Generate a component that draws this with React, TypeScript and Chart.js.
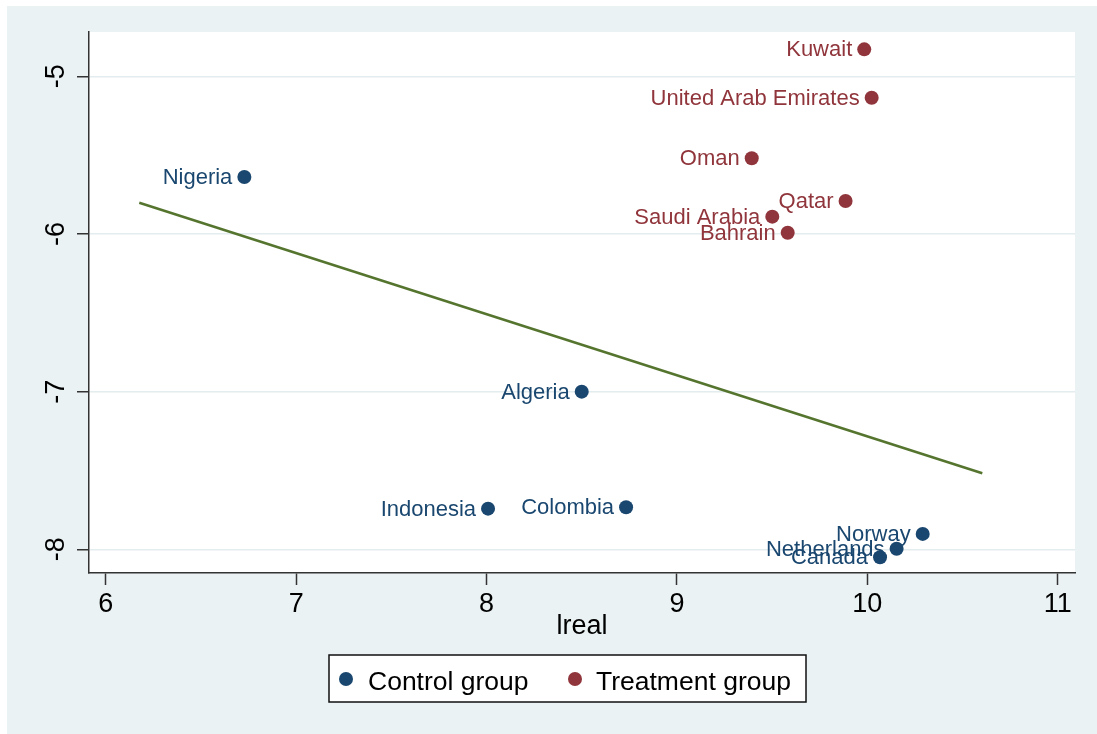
import React, { useEffect, useRef } from 'react';
import { Chart, registerables } from 'chart.js';

Chart.register(...registerables);

// Country observations, split by group
const controlNames = ['Nigeria', 'Algeria', 'Indonesia', 'Colombia', 'Norway', 'Netherlands', 'Canada'];
const controlX = [6.728, 8.5, 8.008, 8.733, 10.291, 10.154, 10.067];
const controlY = [-5.639, -7.0, -7.742, -7.733, -7.902, -7.996, -8.05];

const treatmentNames = ['Kuwait', 'United Arab Emirates', 'Oman', 'Qatar', 'Saudi Arabia', 'Bahrain'];
const treatmentX = [9.984, 10.023, 9.393, 9.886, 9.501, 9.582];
const treatmentY = [-4.829, -5.136, -5.52, -5.791, -5.89, -5.992];

// Fitted line end points
const fitX = [6.176, 10.604];
const fitY = [-5.802, -7.517];

// Axis ticks and ranges
const xTicks = [6, 7, 8, 9, 10, 11];
const yTicks = [-8, -7, -6, -5];
const xRange = [5.912, 11.091];
const yRange = [-8.15, -4.719];

const legendLabels = ['Control group', 'Treatment group'];

const NAVY = '#1A476F';
const MAROON = '#90353B';
const GREEN = '#55752F';
const REGION_BG = '#EAF2F3';
const AXIS = '#333333';
const FONT = '"Liberation Sans", Arial, sans-serif';

const toPoints = (xs: number[], ys: number[]) => xs.map((x, i) => ({ x, y: ys[i] }));

// Paints the outer graph region and the white plot region
const backgroundPlugin = {
  id: 'regionBackground',
  beforeDraw(chart: any) {
    const { ctx, chartArea } = chart;
    ctx.save();
    ctx.fillStyle = REGION_BG;
    ctx.fillRect(0, 0, chart.width, chart.height);
    ctx.fillStyle = '#ffffff';
    ctx.fillRect(chartArea.left, chartArea.top, chartArea.right - chartArea.left, chartArea.bottom - chartArea.top);
    ctx.restore();
  },
};

// Country names written to the left of each marker
const pointLabelPlugin = {
  id: 'pointLabels',
  afterDatasetsDraw(chart: any) {
    const { ctx } = chart;
    ctx.save();
    ctx.font = `22px ${FONT}`;
    ctx.textAlign = 'right';
    ctx.textBaseline = 'middle';
    chart.data.datasets.forEach((ds: any, di: number) => {
      if (!ds.names) return;
      const meta = chart.getDatasetMeta(di);
      ctx.fillStyle = ds.backgroundColor;
      meta.data.forEach((el: any, i: number) => {
        ctx.fillText(ds.names[i], el.x - 12, el.y + 1);
      });
    });
    ctx.restore();
  },
};

// Boxed legend below the axis title
const boxLegendPlugin = {
  id: 'boxLegend',
  afterDraw(chart: any) {
    const { ctx } = chart;
    const boxLeft = 322;
    const boxTop = 649;
    const boxW = 477;
    const boxH = 47;
    const midY = boxTop + boxH / 2 + 0.5;
    ctx.save();
    ctx.fillStyle = '#ffffff';
    ctx.fillRect(boxLeft, boxTop, boxW, boxH);
    ctx.strokeStyle = '#111111';
    ctx.lineWidth = 1.5;
    ctx.strokeRect(boxLeft, boxTop, boxW, boxH);
    const items = [
      { label: legendLabels[0], color: NAVY, mx: 339, tx: 361 },
      { label: legendLabels[1], color: MAROON, mx: 568, tx: 589 },
    ];
    ctx.font = `26.5px ${FONT}`;
    ctx.textAlign = 'left';
    ctx.textBaseline = 'alphabetic';
    items.forEach((it) => {
      ctx.fillStyle = it.color;
      ctx.beginPath();
      ctx.arc(it.mx, midY, 7, 0, Math.PI * 2);
      ctx.fill();
      ctx.fillStyle = '#000000';
      ctx.fillText(it.label, it.tx, 684);
    });
    ctx.restore();
  },
};

export default function App() {
  const canvasRef = useRef<HTMLCanvasElement | null>(null);

  useEffect(() => {
    const canvas = canvasRef.current;
    if (!canvas) return;
    const chart = new Chart(canvas, {
      type: 'scatter',
      data: {
        datasets: [
          {
            label: 'Fitted values',
            data: toPoints(fitX, fitY),
            showLine: true,
            borderColor: GREEN,
            backgroundColor: GREEN,
            borderWidth: 2.5,
            pointRadius: 0,
            order: 3,
          },
          {
            label: legendLabels[0],
            names: controlNames,
            data: toPoints(controlX, controlY),
            backgroundColor: NAVY,
            borderColor: NAVY,
            borderWidth: 0,
            pointRadius: 7,
            order: 1,
          } as any,
          {
            label: legendLabels[1],
            names: treatmentNames,
            data: toPoints(treatmentX, treatmentY),
            backgroundColor: MAROON,
            borderColor: MAROON,
            borderWidth: 0,
            pointRadius: 7,
            order: 2,
          } as any,
        ],
      },
      options: {
        responsive: false,
        animation: false,
        devicePixelRatio: 1,
        layout: { padding: { top: 26, right: 22, bottom: 91, left: 0 } },
        plugins: {
          legend: { display: false },
          tooltip: { enabled: false },
        },
        scales: {
          x: {
            type: 'linear',
            min: xRange[0],
            max: xRange[1],
            afterBuildTicks: (scale: any) => {
              scale.ticks = xTicks.map((value) => ({ value }));
            },
            afterFit: (scale: any) => {
              scale.height = 70;
            },
            grid: {
              drawOnChartArea: false,
              drawTicks: true,
              tickLength: 12,
              tickColor: AXIS,
              tickWidth: 1.5,
            },
            border: { display: true, color: AXIS, width: 1.5 },
            ticks: {
              color: '#000000',
              padding: 3,
              font: { family: FONT, size: 27 },
              maxRotation: 0,
              autoSkip: false,
            },
            title: {
              display: true,
              text: 'lreal',
              color: '#000000',
              font: { family: FONT, size: 27 },
              padding: { top: 0, bottom: 0 },
            },
          },
          y: {
            type: 'linear',
            min: yRange[0],
            max: yRange[1],
            afterBuildTicks: (scale: any) => {
              scale.ticks = yTicks.map((value) => ({ value }));
            },
            afterFit: (scale: any) => {
              scale.width = 82;
            },
            grid: {
              color: '#E3ECEE',
              lineWidth: 1.5,
              drawTicks: true,
              tickLength: 12,
              tickColor: AXIS,
              tickWidth: 1.5,
            },
            border: { display: true, color: AXIS, width: 1.5 },
            ticks: {
              color: '#000000',
              padding: 8,
              crossAlign: 'center',
              minRotation: 90,
              maxRotation: 90,
              autoSkip: false,
              font: { family: FONT, size: 27 },
            },
          },
        },
      } as any,
      plugins: [backgroundPlugin, pointLabelPlugin, boxLegendPlugin],
    });
    return () => chart.destroy();
  }, []);

  return (
    <div style={{ position: 'absolute', left: 7, top: 6, width: 1090, height: 728 }}>
      <canvas ref={canvasRef} width={1090} height={728} style={{ display: 'block', width: 1090, height: 728 }} />
    </div>
  );
}
